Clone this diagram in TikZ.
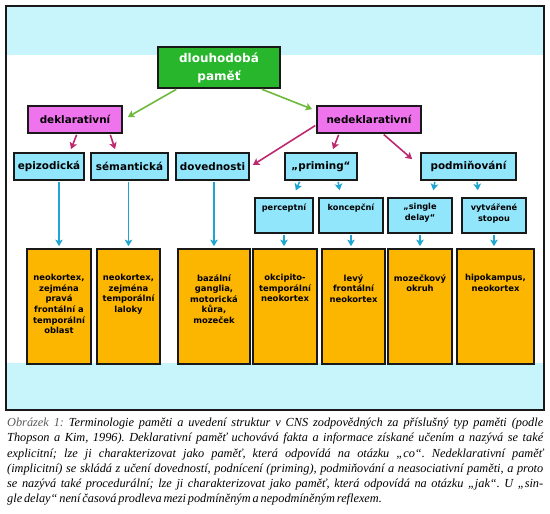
\documentclass[tikz,border=0pt]{standalone}
\usepackage{fontspec}
\setmainfont{Liberation Serif}
\newfontfamily\boxfont{DejaVu Sans}
\usepackage{tikz}
\usetikzlibrary{arrows.meta,positioning}

\definecolor{band}{RGB}{200,244,252}
\definecolor{boxline}{RGB}{25,25,25}
\definecolor{rootgreen}{RGB}{40,182,45}
\definecolor{kindpink}{RGB}{240,115,238}
\definecolor{typecyan}{RGB}{145,230,252}
\definecolor{areaorange}{RGB}{252,182,0}
\definecolor{arrowgreen}{RGB}{110,185,60}
\definecolor{arrowpink}{RGB}{190,40,110}
\definecolor{arrowblue}{RGB}{30,165,210}

\begin{document}
\begin{tikzpicture}[x=1pt,y=-1pt,>={Stealth[length=6.5pt,width=7.5pt,inset=1.5pt]},
	box/.style={draw=boxline,line width=1.7pt,rectangle,inner sep=0pt,minimum height=27pt,font=\boxfont\bfseries\fontsize{10.4}{12}\selectfont},
	root/.style={box,fill=rootgreen,text=white,align=center,minimum width=122pt,minimum height=41pt,font=\boxfont\bfseries\fontsize{12}{18}\selectfont},
	kind/.style={box,fill=kindpink},
	type/.style={box,fill=typecyan},
	sub/.style={box,fill=typecyan,minimum height=35pt,line width=1.4pt},
	subtext/.style={align=center,inner sep=0pt,font=\boxfont\bfseries\fontsize{8.2}{11}\selectfont},
	area/.style={draw=boxline,fill=areaorange,line width=1.7pt,minimum height=115pt,inner sep=0pt},
	areatext/.style={align=center,inner sep=0pt,font=\boxfont\bfseries\fontsize{8.4}{10.6}\selectfont},
	rootedge/.style={->,draw=arrowgreen,line width=1.6pt,shorten <=1pt},
	kindedge/.style={->,draw=arrowpink,line width=1.6pt,shorten <=1pt},
	typeedge/.style={->,draw=arrowblue,line width=1.6pt,shorten <=1pt,shorten >=2pt},
	caption/.style={text width=536pt,align=justify,inner sep=0pt,anchor=north west,font=\itshape\fontsize{12.3}{15.2}\selectfont}]
	\useasboundingbox (0,0) rectangle (550,514);

	% frame with the two bands
	\fill[band] (6,6) rectangle (544,55);
	\fill[band] (6,363) rectangle (544,410);
	\draw[boxline,line width=1.4pt] (6,6) rectangle (544,410);

	\node[root]							(root)		at (219,67.5)		{dlouhodobá\\paměť};
	\node[kind,minimum width=94pt]		(dekl)		at (75,119.5)		{deklarativní};
	\node[kind,minimum width=104pt]		(nedekl)	at (369,119.5)		{nedeklarativní};

	\node[type,minimum width=70pt]		(epi)		at (49,166.5)		{epizodická};
	\node[type,minimum width=77pt]		(sem)		at (129.5,166.5)	{sémantická};
	\node[type,minimum width=73pt]		(dov)		at (212.5,166.5)	{dovednosti};
	\node[type,minimum width=72pt]		(prim)		at (321,166.5)		{„priming“};
	\node[type,minimum width=95pt]		(podm)		at (468.5,166.5)	{podmiňování};

	\node[sub,minimum width=58pt]		(perc)		at (284,215.5)		{};
	\node[sub,minimum width=64pt]		(konc)		at (351,215.5)		{};
	\node[sub,minimum width=64pt]		(single)	at (420,215.5)		{};
	\node[sub,minimum width=64pt]		(vytv)		at (494,215.5)		{};
	\node[subtext]	(perct)		[below=6pt of perc.north]		{perceptní};
	\node[subtext]	(konct)		[below=6pt of konc.north]		{koncepční};
	\node[subtext]	(singlet)	[below=6pt of single.north]		{„single\\delay“};
	\node[subtext]	(vytvt)		[below=6pt of vytv.north]		{vytvářené\\stopou};

	\node[area,minimum width=64pt]		(o1)		at (59,306.5)		{};
	\node[area,minimum width=63pt]		(o2)		at (128.5,306.5)	{};
	\node[area,minimum width=72pt]		(o3)		at (214,306.5)		{};
	\node[area,minimum width=64pt]		(o4)		at (285,306.5)		{};
	\node[area,minimum width=63pt]		(o5)		at (353.5,306.5)	{};
	\node[area,minimum width=64pt]		(o6)		at (420,306.5)		{};
	\node[area,minimum width=77pt]		(o7)		at (495.5,306.5)	{};
	\node[areatext]	(o1t)	[below=26pt of o1.north]	{neokortex,\\zejména\\pravá\\frontální a\\temporální\\oblast};
	\node[areatext]	(o2t)	[below=26pt of o2.north]	{neokortex,\\zejména\\temporální\\laloky};
	\node[areatext]	(o3t)	[below=26pt of o3.north]	{bazální\\ganglia,\\motorická\\kůra,\\mozeček};
	\node[areatext]	(o4t)	[below=26pt of o4.north]	{okcipito-\\temporální\\neokortex};
	\node[areatext]	(o5t)	[below=26pt of o5.north]	{levý\\frontální\\neokortex};
	\node[areatext]	(o6t)	[below=26pt of o6.north]	{mozečkový\\okruh};
	\node[areatext]	(o7t)	[below=26pt of o7.north]	{hipokampus,\\neokortex};

	\draw[rootedge] ([xshift=20pt]root.south west) -- ([xshift=5pt,yshift=2.5pt]dekl.east);
	\draw[rootedge] ([xshift=-20pt]root.south east) -- ([xshift=-4pt,yshift=-4pt]nedekl.north west);

	\draw[kindedge] ([xshift=2pt]dekl.south) -- ([xshift=22pt,yshift=3pt]epi.north);
	\draw[kindedge] ([xshift=35pt]dekl.south) -- ([xshift=-14.5pt,yshift=3pt]sem.north);
	\draw[kindedge] ([yshift=-5.5pt]nedekl.west) -- ([xshift=3pt,yshift=1.5pt]dov.east);
	\draw[kindedge] ([xshift=-30pt]nedekl.south) -- ([xshift=12pt,yshift=3pt]prim.north);
	\draw[kindedge] ([xshift=14pt]nedekl.south) -- ([xshift=-8pt,yshift=-7pt]podm.north west);

	\draw[typeedge] (o1.north |- epi.south) -- (o1.north);
	\draw[typeedge] (o2.north |- sem.south) -- (o2.north);
	\draw[typeedge] (o3.north |- dov.south) -- (o3.north);
	\draw[typeedge] ([xshift=-21pt]prim.south) -- ([xshift=11pt,yshift=5pt]perc.north);
	\draw[typeedge] ([xshift=17pt]prim.south) -- ([xshift=-11pt,yshift=5pt]konc.north);
	\draw[typeedge] ([xshift=-33.5pt]podm.south) -- ([xshift=13pt,yshift=5pt]single.north);
	\draw[typeedge] ([xshift=8.5pt]podm.south) -- ([xshift=-16pt,yshift=5pt]vytv.north);
	\draw[typeedge] (perc.south) -- (perc.south |- o4.north);
	\draw[typeedge] (konc.south) -- (konc.south |- o5.north);
	\draw[typeedge] (single.south) -- (single.south |- o6.north);
	\draw[typeedge] (vytv.south) -- (vytv.south |- o7.north);

	\node[caption] (cap) at (7,418) {\tolerance=10000\frenchspacing\spaceskip=0.15em plus 1em minus 0.05em\textcolor{black!65}{Obrázek 1:} Terminologie paměti a uvedení struktur v CNS zodpovědných za příslušný typ paměti (podle\linebreak
		Thopson a Kim, 1996). Deklarativní paměť uchovává fakta a informace získané učením a nazývá se také\linebreak
		explicitní; lze ji charakterizovat jako paměť, která odpovídá na otázku „co“. Nedeklarativní paměť\linebreak
		(implicitní) se skládá z učení dovedností, podnícení (priming), podmiňování a neasociativní paměti, a proto\linebreak
		se nazývá také procedurální; lze ji charakterizovat jako paměť, která odpovídá na otázku „jak“. U „sin-\linebreak
		gle delay“ není časová prodleva mezi podmíněným a nepodmíněným reflexem.};
\end{tikzpicture}
\end{document}
